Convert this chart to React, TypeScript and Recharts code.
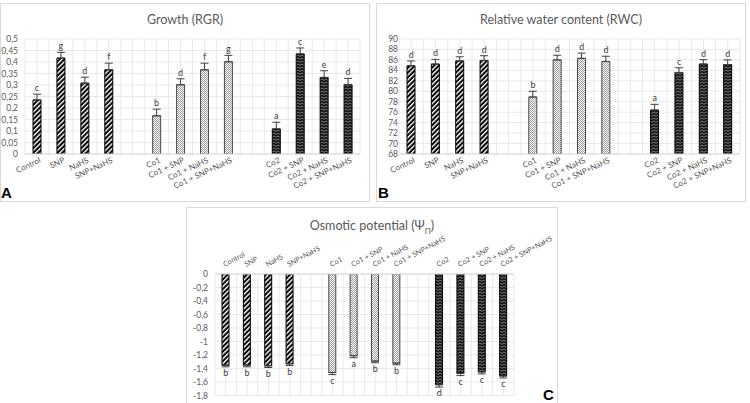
import React from 'react';
import { ComposedChart, Bar, Line, XAxis, YAxis, CartesianGrid, ErrorBar, LabelList, Cell } from 'recharts';

const treatments = [
  'Control', 'SNP', 'NaHS', 'SNP+NaHS', '',
  'Co1', 'Co1 + SNP', 'Co1 + NaHS', 'Co1 + SNP+NaHS', '',
  'Co2', 'Co2 + SNP', 'Co2 + NaHS', 'Co2 + SNP+NaHS',
];
// which Co level each bar belongs to (drives the fill pattern)
const groups = ['none', 'none', 'none', 'none', '', 'co1', 'co1', 'co1', 'co1', '', 'co2', 'co2', 'co2', 'co2'];

const rgrValues = [0.235, 0.417, 0.308, 0.366, null, 0.166, 0.301, 0.366, 0.401, null, 0.109, 0.435, 0.333, 0.301];
const rgrErrors = [0.025, 0.025, 0.026, 0.029, null, 0.029, 0.026, 0.029, 0.028, null, 0.029, 0.026, 0.029, 0.028];
const rgrLetters = ['c', 'g', 'd', 'f', '', 'b', 'd', 'f', 'g', '', 'a', 'c', 'e', 'd'];
const rgrTicks = [0, 0.05, 0.1, 0.15, 0.2, 0.25, 0.3, 0.35, 0.4, 0.45, 0.5];

const rwcValues = [84.9, 85.2, 85.8, 85.9, null, 78.9, 86.0, 86.3, 85.7, null, 76.4, 83.6, 85.2, 85.1];
const rwcErrors = [0.9, 0.9, 0.8, 0.9, null, 1.1, 0.9, 1.0, 1.0, null, 1.1, 0.9, 0.85, 0.9];
const rwcLetters = ['d', 'd', 'd', 'd', '', 'b', 'd', 'd', 'd', '', 'a', 'c', 'd', 'd'];
const rwcTicks = [68, 70, 72, 74, 76, 78, 80, 82, 84, 86, 88, 90];

const opValues = [-1.35, -1.35, -1.36, -1.33, null, -1.46, -1.21, -1.29, -1.32, null, -1.64, -1.47, -1.45, -1.51];
const opErrors = [0.025, 0.025, 0.025, 0.025, null, 0.03, 0.03, 0.025, 0.025, null, 0.035, 0.035, 0.03, 0.03];
const opLetters = ['b', 'b', 'b', 'b', '', 'c', 'a', 'b', 'b', '', 'd', 'c', 'c', 'c'];
const opTicks = [0, -0.2, -0.4, -0.6, -0.8, -1, -1.2, -1.4, -1.6, -1.8];

const buildRows = (values: (number | null)[], errors: (number | null)[], letters: string[], up: boolean) =>
  treatments.map((name, i) => {
    const v = values[i];
    const e = errors[i];
    return {
      name,
      group: groups[i],
      value: v,
      err: v == null || e == null ? null : up ? [0, e] : [e, 0],
      tip: v == null || e == null ? null : up ? v + e : v - e,
      letter: letters[i],
    };
  });

const rgrRows = buildRows(rgrValues, rgrErrors, rgrLetters, true);
const rwcRows = buildRows(rwcValues, rwcErrors, rwcLetters, true);
const opRows = buildRows(opValues, opErrors, opLetters, false);

const FONT = 'Lato, "Open Sans", sans-serif';
const GREY = '#595959';

const fillFor = (g: string) => (g === 'co1' ? 'url(#pDots)' : g === 'co2' ? 'url(#pZig)' : 'url(#pStripe)');
const strokeFor = (g: string) => (g === 'co1' ? '#4a4a4a' : '#000');
const comma = (v: number) => String(v).replace('.', ',');

// vertical grid every half category
const halfSlots = ({ offset }: any) => {
  const out: number[] = [];
  for (let i = 0; i <= 28; i++) out.push(offset.left + (offset.width * i) / 28);
  return out;
};

const BottomTick = (props: any) => {
  const { x, y, payload } = props;
  if (!payload.value) return null;
  const ax = x + 2;
  const ay = y + 3;
  return (
    <text x={ax} y={ay} dy="0.7em" textAnchor="end" transform={`rotate(-25, ${ax}, ${ay})`}
      fontSize={8} fill={GREY} fontFamily={FONT}>{payload.value}</text>
  );
};

const TopTick = (props: any) => {
  const { x, y, payload } = props;
  if (!payload.value) return null;
  const ax = x - 1;
  const ay = y - 7;
  return (
    <text x={ax} y={ay} textAnchor="start" transform={`rotate(-28, ${ax}, ${ay})`}
      fontSize={7.2} fill={GREY} fontFamily={FONT}>{payload.value}</text>
  );
};

type PanelProps = {
  rows: any[];
  ticks: number[];
  domain: [number, number];
  width: number;
  height: number;
  margin: { top: number; right: number; bottom: number; left: number };
  yWidth: number;
  ySize: number;
  xHeight: number;
  top?: boolean;
  barSize: number;
};

const BarPanel = ({ rows, ticks, domain, width, height, margin, yWidth, ySize, xHeight, top, barSize }: PanelProps) => (
  <ComposedChart width={width} height={height} data={rows} margin={margin} barCategoryGap={0}>
    <CartesianGrid stroke="#e3e3e3" strokeWidth={0.8} verticalCoordinatesGenerator={halfSlots} />
    <XAxis dataKey="name" orientation={top ? 'top' : 'bottom'} height={xHeight} interval={0}
      axisLine={{ stroke: '#d9d9d9' }} tickLine={false} tickSize={0} tickMargin={0}
      tick={top ? <TopTick /> : <BottomTick />} />
    <YAxis type="number" domain={domain} ticks={ticks} interval={0} width={yWidth} allowDataOverflow
      axisLine={false} tickLine={false} tickSize={ySize} tickMargin={1} tickFormatter={comma}
      tick={{ fontSize: 8.5, fill: GREY, fontFamily: FONT }} />
    <Bar dataKey="value" barSize={barSize} isAnimationActive={false}>
      {rows.map((r, i) => (
        <Cell key={i} fill={fillFor(r.group)} stroke={strokeFor(r.group)} strokeWidth={1} />
      ))}
      <ErrorBar dataKey="err" width={4} stroke="#404040" strokeWidth={1} isAnimationActive={false} />
    </Bar>
    <Line dataKey="tip" stroke="none" dot={false} activeDot={false} isAnimationActive={false} legendType="none">
      <LabelList dataKey="letter" position={top ? 'bottom' : 'top'} offset={3} fontSize={9}
        fill="#404040" fontFamily={FONT} />
    </Line>
  </ComposedChart>
);

const boxStyle = (left: number, top: number, width: number, height: number): React.CSSProperties => ({
  position: 'absolute', left, top, width, height, border: '1px solid #d9d9d9', boxSizing: 'border-box',
});

const titleStyle = (left: number, top: number, width: number): React.CSSProperties => ({
  position: 'absolute', left, top, width, textAlign: 'center', fontFamily: FONT, fontSize: 12.5,
  lineHeight: '15px', color: GREY, whiteSpace: 'nowrap',
});

const letterStyle = (left: number, top: number): React.CSSProperties => ({
  position: 'absolute', left, top, fontFamily: 'Arial, "Liberation Sans", sans-serif', fontWeight: 'bold',
  fontSize: 15, lineHeight: '14px', color: '#000',
});

export default function App() {
  return (
    <div style={{ position: 'absolute', left: 0, top: 0, width: 750, height: 403, background: '#fff', overflow: 'hidden' }}>
      <svg width={0} height={0} style={{ position: 'absolute' }}>
        <defs>
          <pattern id="pStripe" width="3.4" height="3.4" patternUnits="userSpaceOnUse" patternTransform="rotate(45)">
            <rect width="3.4" height="3.4" fill="#000" />
            <rect width="1.4" height="3.4" fill="#fff" />
          </pattern>
          <pattern id="pDots" width="2" height="2" patternUnits="userSpaceOnUse">
            <rect width="2" height="2" fill="#fff" />
            <rect width="1" height="1" fill="#9a9a9a" />
            <rect x="1" y="1" width="1" height="1" fill="#9a9a9a" />
          </pattern>
          <pattern id="pZig" width="4" height="3" patternUnits="userSpaceOnUse">
            <rect width="4" height="3" fill="#111" />
            <polyline points="0,2.4 2,0.9 4,2.4" fill="none" stroke="#b5b5b5" strokeWidth="0.7" />
          </pattern>
        </defs>
      </svg>

      {/* A: relative growth rate */}
      <div style={boxStyle(0, 3, 370, 199)} />
      <div style={{ position: 'absolute', left: 0, top: 0 }}>
        <BarPanel rows={rgrRows} ticks={rgrTicks} domain={[0, 0.5]} width={370} height={202}
          margin={{ top: 39, right: 10, bottom: 0, left: 0 }} yWidth={25} ySize={6} xHeight={48} barSize={8} />
      </div>
      <div style={titleStyle(0, 12, 370)}>Growth (RGR)</div>
      <div style={letterStyle(1, 186)}>A</div>

      {/* B: relative water content */}
      <div style={boxStyle(376, 3, 370, 199)} />
      <div style={{ position: 'absolute', left: 376, top: 0 }}>
        <BarPanel rows={rwcRows} ticks={rwcTicks} domain={[68, 90]} width={370} height={202}
          margin={{ top: 39, right: 6, bottom: 0, left: 0 }} yWidth={23} ySize={0} xHeight={48} barSize={8} />
      </div>
      <div style={titleStyle(376, 12, 370)}>Relative water content (RWC)</div>
      <div style={letterStyle(378, 186)}>B</div>

      {/* C: osmotic potential */}
      <div style={boxStyle(186, 207, 372, 210)} />
      <div style={{ position: 'absolute', left: 186, top: 207 }}>
        <BarPanel rows={opRows} ticks={opTicks} domain={[-1.8, 0]} width={372} height={196}
          margin={{ top: 27, right: 44, bottom: 7.5, left: 0 }} yWidth={29} ySize={6} xHeight={40} top barSize={7} />
      </div>
      <div style={titleStyle(186, 218, 372)}>
        Osmotic potential (Ψ<sub style={{ fontSize: 8, verticalAlign: 'sub' }}>Π</sub>)
      </div>
      <div style={letterStyle(543, 388)}>C</div>
    </div>
  );
}
